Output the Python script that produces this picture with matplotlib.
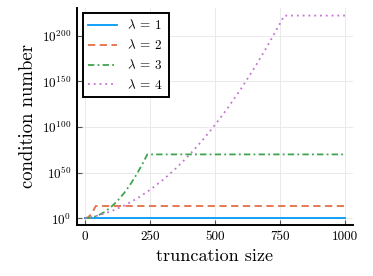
import numpy as np
import matplotlib
matplotlib.use("Agg")
import matplotlib.pyplot as plt

# values: log10 of condition number vs truncation size
x1 = [0, 1000]
y1 = [0.0, 0.0]
x2 = [0, 10, 20, 30, 42, 1000]
y2 = [0.0, 0.8, 3.1, 6.9, 13.5, 13.5]
x3 = [0, 25, 50, 75, 100, 125, 150, 175, 200, 225, 240, 1000]
y3 = [0.0, 0.8, 3.0, 6.8, 12.2, 19.0, 27.3, 37.2, 48.6, 61.5, 70.0, 70.0]
x4 = [0, 50, 100, 150, 200, 250, 300, 350, 400, 450, 500, 550, 600, 650, 700, 750, 766, 1000]
y4 = [0.0, 3.0, 7.6, 13.8, 21.6, 31.1, 42.1, 54.7, 69.0, 84.8, 102.3, 121.2, 141.9, 164.1, 188.0, 213.5, 222.0, 222.0]
labels = [r"$\lambda \:=\: 1$", r"$\lambda \:=\: 2$", r"$\lambda \:=\: 3$", r"$\lambda \:=\: 4$"]
xticks = [0, 250, 500, 750, 1000]
yexp = [0, 50, 100, 150, 200]

plt.rcParams["font.family"] = "serif"
plt.rcParams["font.serif"] = ["cmr10"]
plt.rcParams["mathtext.fontset"] = "cm"
plt.rcParams["axes.unicode_minus"] = False

fig = plt.figure(figsize=(3.73, 2.76), dpi=100)
ax = fig.add_axes([77/373, 51/276, 276/373, 217/276])

ax.plot(x1, 10.0**np.array(y1), color="#009AFA", lw=1.3, label=labels[0])
ax.plot(x2, 10.0**np.array(y2), color="#E36F47", lw=1.3, dashes=(4, 2.5), label=labels[1])
ax.plot(x3, 10.0**np.array(y3), color="#3EA44E", lw=1.3, dashes=(3.5, 1.8, 1, 1.8), label=labels[2])
ax.plot(x4, 10.0**np.array(y4), color="#C371D2", lw=1.3, dashes=(1, 2.2), label=labels[3])

ax.set_yscale("log")
ax.set_xlim(-30, 1030)
ax.set_ylim(10.0**-7.3, 10.0**230.3)
ax.set_xticks(xticks)
ax.set_xticklabels([str(t) for t in xticks])
ax.set_yticks([10.0**e for e in yexp])
ax.set_yticklabels([r"$10^{%d}$" % e for e in yexp])
ax.minorticks_off()

ax.grid(True, color="#e6e6e6", lw=0.6)
ax.set_axisbelow(True)
for s in ["top", "right"]:
    ax.spines[s].set_visible(False)
for s in ["left", "bottom"]:
    ax.spines[s].set_linewidth(1.4)
ax.tick_params(direction="in", length=3.5, width=0.8, color="#555555", labelsize=9.5, pad=4)

ax.set_xlabel("truncation size", fontsize=13)
ax.set_ylabel("condition number", fontsize=13.5)

leg = ax.legend(loc="upper left", bbox_to_anchor=(0.02, 0.977), borderaxespad=0,
                fancybox=False, edgecolor="black", fontsize=9.5, handlelength=2.2,
                labelspacing=0.45, framealpha=1)
leg.get_frame().set_linewidth(1.4)

fig.savefig("out.png", dpi=100)
